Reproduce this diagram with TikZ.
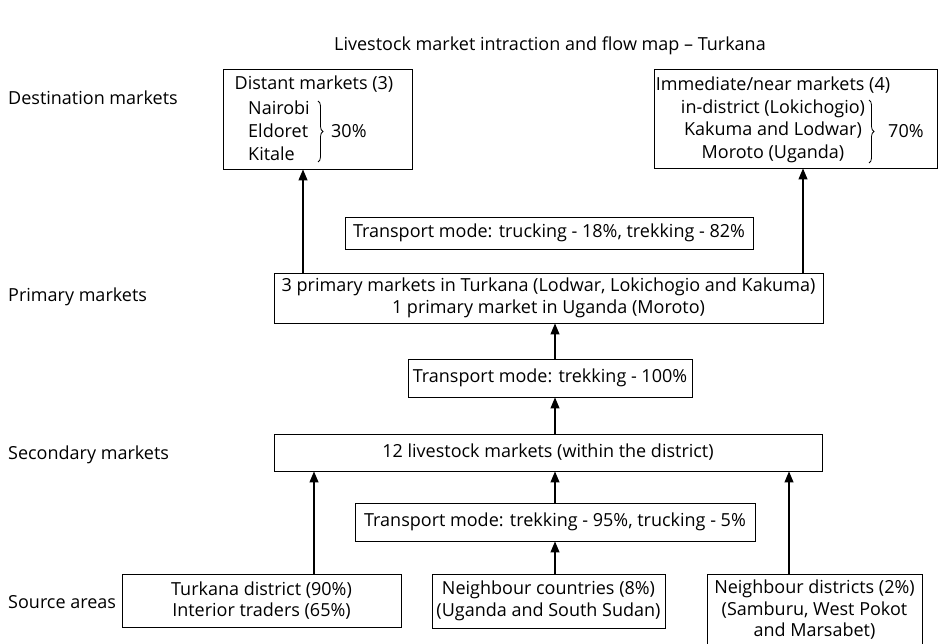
\documentclass[tikz,border=0pt]{standalone}
\usepackage{fontspec}
\setmainfont{Open Sans}
\usetikzlibrary{arrows.meta,decorations.pathreplacing}
\begin{document}
\begin{tikzpicture}[x=1pt,y=-1pt,
  every node/.style={font=\fontsize{18}{21.5}\selectfont, inner sep=0pt},
  box/.style={draw, line width=0.9pt, rectangle, align=center},
  arr/.style={-{Triangle[width=9pt,length=11pt]}, line width=1.1pt},
  lbl/.style={anchor=west},
  brc/.style={decorate, decoration={brace, amplitude=5pt}, line width=0.8pt}]
\useasboundingbox (0,0) rectangle (940,644);

% title and level labels
\node (title) at (550,46) {Livestock market intraction and flow map -- Turkana};
\node[lbl] (ldest) at (8,98) {Destination markets};
\node[lbl] (lprim) at (8,297) {Primary markets};
\node[lbl] (lsec) at (8,455) {Secondary markets};
\node[lbl] (lsrc) at (8,602) {Source areas};

% destination boxes
\node[box, minimum width=189, minimum height=100] (dist) at (317.5,119) {};
\node (distt) at (314,84) {Distant markets (3)};
\node[align=left, anchor=west, font=\fontsize{18}{23}\selectfont] (distl) at (248,131) {Nairobi\\Eldoret\\Kitale};
\draw[brc] (318,101) -- (318,162);
\node[lbl] (dpct) at (331,131) {30\%};

\node[box, minimum width=283, minimum height=99] (imm) at (795.5,118.5) {};
\node (immt) at (773,85) {Immediate/near markets (4)};
\node[align=center, font=\fontsize{18}{22.5}\selectfont] (imml) at (773,131) {in-district (Lokichogio)\\Kakuma and Lodwar)\\Moroto (Uganda)};
\draw[brc] (869,100) -- (869,163);
\node[lbl] (ipct) at (888,131) {70\%};

% middle boxes
\node[box, minimum width=408, minimum height=32] (truck) at (549,233) {Transport mode: trucking - 18\%, trekking - 82\%};
\node[box, minimum width=549, minimum height=50] (prim) at (548.5,298) {3 primary markets in Turkana (Lodwar, Lokichogio and Kakuma)\\1 primary market in Uganda (Moroto)};
\node[box, minimum width=284, minimum height=38] (trek100) at (550,378) {Transport mode: trekking - 100\%};
\node[box, minimum width=548, minimum height=37] (sec) at (548,452.5) {12 livestock markets (within the district)};
\node[box, minimum width=400, minimum height=38] (trek95) at (555,522) {Transport mode: trekking - 95\%, trucking - 5\%};

% source boxes
\node[box, minimum width=279, minimum height=53] (turk) at (261.5,600.5) {Turkana district (90\%)\\Interior traders (65\%)};
\node[box, minimum width=233, minimum height=54] (ncount) at (548.5,601) {Neighbour countries (8\%)\\(Uganda and South Sudan)};
\node[box, minimum width=215, minimum height=72] (ndist) at (814.5,610) {Neighbour districts (2\%)\\(Samburu, West Pokot\\and Marsabet)};

% arrow columns
\coordinate (xa) at (303,0);
\coordinate (xb) at (803,0);
\coordinate (xc) at (555,0);
\coordinate (xd) at (314,0);
\coordinate (xe) at (789,0);

\draw[arr] (prim.north -| xa) -- (dist.south -| xa);
\draw[arr] (prim.north -| xb) -- (imm.south -| xb);
\draw[arr] (trek100.north -| xc) -- (prim.south -| xc);
\draw[arr] (sec.north -| xc) -- (trek100.south -| xc);
\draw[arr] (trek95.north -| xc) -- (sec.south -| xc);
\draw[arr] (ncount.north -| xc) -- (trek95.south -| xc);
\draw[arr] (turk.north -| xd) -- (sec.south -| xd);
\draw[arr] (ndist.north -| xe) -- (sec.south -| xe);
\end{tikzpicture}
\end{document}
